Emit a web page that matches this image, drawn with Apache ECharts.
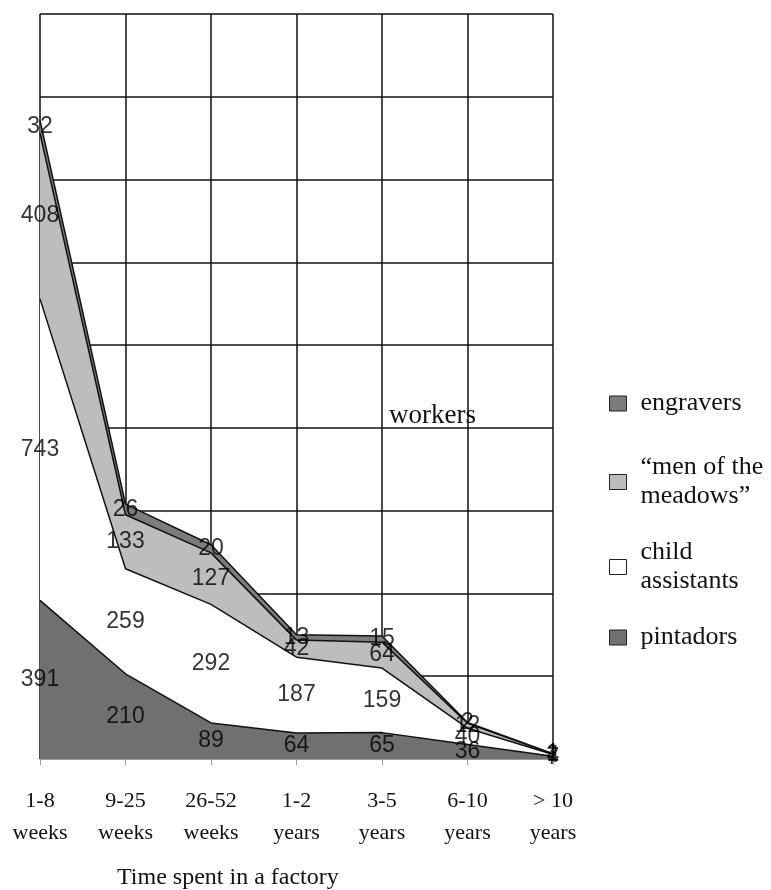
<!DOCTYPE html>
<html>
<head>
<meta charset="utf-8">
<script src="https://cdn.jsdelivr.net/npm/echarts@6/dist/echarts.min.js"></script>
<style>
  html, body { margin: 0; padding: 0; background: #fff; }
  #chart { width: 771px; height: 890px; }
</style>
</head>
<body>
<div id="chart"></div>
<script>
// categories on the x axis (two-line labels)
var categories = ['1-8\nweeks', '9-25\nweeks', '26-52\nweeks', '1-2\nyears', '3-5\nyears', '6-10\nyears', '> 10\nyears'];

// series, bottom of the stack first
var pintadors = [391, 210, 89, 64, 65, 36, 7];
var childAssistants = [743, 259, 292, 187, 159, 40, 4];
var menOfMeadows = [408, 133, 127, 42, 64, 12, 1];
var engravers = [32, 26, 20, 13, 15, 2, 1];

var seriesNames = ['pintadors', 'child assistants', '\u201cmen of the meadows\u201d', 'engravers'];
var legendLabels = ['pintadors', 'child\nassistants', '\u201cmen of the\nmeadows\u201d', 'engravers'];
var fills = ['#707070', '#ffffff', '#bdbdbd', '#7c7c7c'];

var serif = '"Liberation Serif", "Times New Roman", serif';
var sans = '"Liberation Sans", Arial, sans-serif';

var myChart = echarts.init(document.getElementById('chart'));

var allData = [pintadors, childAssistants, menOfMeadows, engravers];

// stacked areas
var series = allData.map(function (d, i) {
    return {
        name: seriesNames[i],
        type: 'line',
        stack: 'workers',
        data: d,
        symbol: 'none',
        color: fills[i],
        lineStyle: { color: '#111', width: 1.5 },
        areaStyle: { color: fills[i], opacity: 1 },
        z: 2
    };
});

// value labels sit in the middle of each band
var labelPoints = [];
var base = categories.map(function () { return 0; });
allData.forEach(function (d) {
    d.forEach(function (v, j) {
        labelPoints.push([j, base[j] + v / 2, v]);
        base[j] += v;
    });
});
series.push({
    type: 'scatter',
    data: labelPoints,
    symbolSize: 1,
    itemStyle: { color: 'rgba(0,0,0,0)' },
    silent: true,
    z: 5,
    label: {
        show: true,
        position: 'inside',
        formatter: function (p) { return p.value[2]; },
        fontFamily: sans,
        fontSize: 23,
        color: '#000',
        textBorderWidth: 0
    }
});

// one legend per item, placed down the right side
var legendTops = [384, 448, 533, 618];
var legendOrder = [3, 2, 1, 0];
var legends = legendOrder.map(function (k, i) {
    return {
        data: [seriesNames[k]],
        orient: 'vertical',
        left: 604,
        top: legendTops[i],
        icon: 'rect',
        itemWidth: 17,
        itemHeight: 15,
        selectedMode: false,
        itemStyle: { borderColor: '#222', borderWidth: 1 },
        formatter: function () { return legendLabels[k]; },
        textStyle: {
            fontFamily: serif,
            fontSize: 26,
            lineHeight: 29,
            color: '#111',
            padding: [0, 0, 0, 9]
        }
    };
});

myChart.setOption({
    animation: false,
    backgroundColor: '#fff',
    title: [{
        text: 'workers',
        left: 384,
        top: 397,
        textStyle: { fontFamily: serif, fontSize: 27, fontWeight: 'normal', color: '#111' }
    }, {
        text: 'Time spent in a factory',
        left: 117,
        top: 866,
        padding: 0,
        textStyle: { fontFamily: serif, fontSize: 24, fontWeight: 'normal', color: '#111' }
    }],
    legend: legends,
    grid: { left: 40, right: 218, top: 14, bottom: 131 },
    xAxis: {
        type: 'category',
        data: categories,
        boundaryGap: false,
        axisLine: { show: true, lineStyle: { color: '#999', width: 1 } },
        axisTick: { show: true, length: 6, lineStyle: { color: '#999' } },
        axisLabel: { fontFamily: serif, fontSize: 22, lineHeight: 32, color: '#111', margin: 26, interval: 0 },
        splitLine: { show: true, lineStyle: { color: '#111', width: 1.5 } }
    },
    yAxis: {
        type: 'value',
        min: 0,
        max: 1836,
        interval: 204,
        axisLabel: { show: false },
        axisLine: { show: false },
        axisTick: { show: false },
        splitLine: { show: true, lineStyle: { color: '#111', width: 1.5 } }
    },
    series: series
});
</script>
</body>
</html>
